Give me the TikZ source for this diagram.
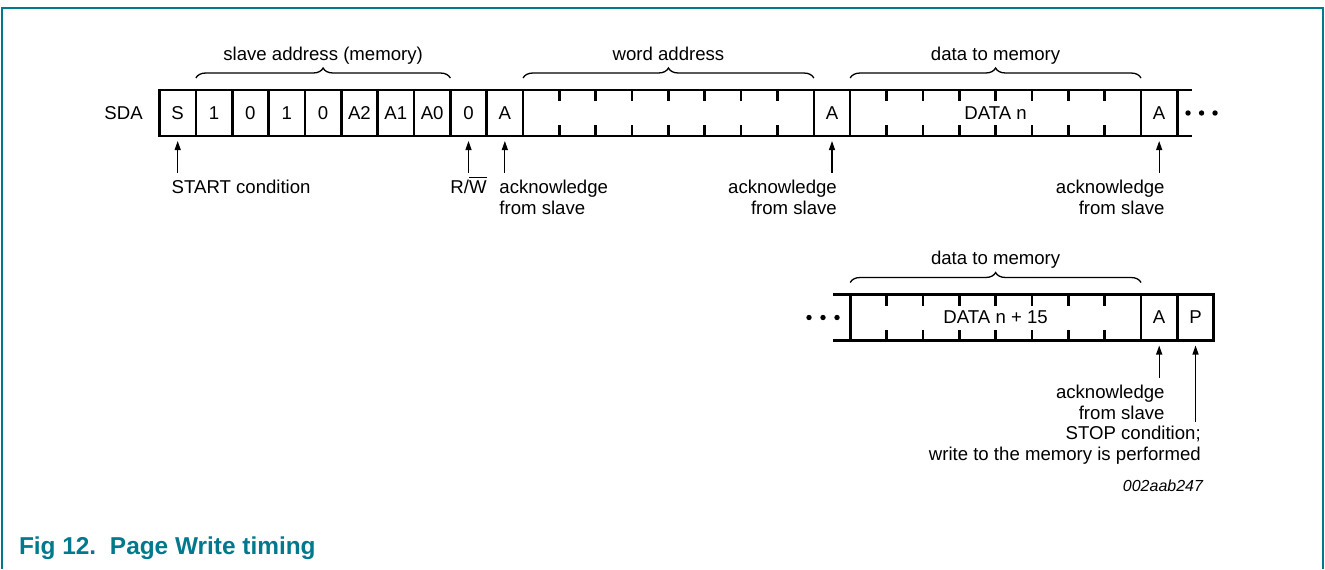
\documentclass[tikz,border=0pt]{standalone}
\usepackage{fontspec}
\setmainfont{Liberation Sans}
\usetikzlibrary{positioning, arrows.meta, decorations.pathreplacing, calc}
\definecolor{figteal}{RGB}{0,121,140}
\tikzset{
    x=0.5pt, y=-0.5pt, % one unit is one pixel of the drawing, y runs downwards
    >={Triangle[length=4.5pt, width=3pt]}, % small solid arrow heads
    every node/.style={font=\fontsize{9.3}{10.3}\selectfont, inner sep=0pt, outer sep=0pt},
    sigcell/.style={draw, line width=1.3pt, minimum width=18.175pt, minimum height=23pt}, % one bit
    sigbyte/.style={sigcell, minimum width=145.4pt}, % eight bits
    ackarrow/.style={->, line width=0.6pt, shorten >=2.5pt},
    curly/.style={decorate, decoration={brace, amplitude=5pt}, line width=0.65pt},
    note/.style={align=left},
    rnote/.style={align=right},
}

\begin{document}
\begin{tikzpicture}
    \useasboundingbox (0,0) rectangle (1325,569);
    \draw[figteal, line width=1pt] (2,569) -- (2,8) -- (1323,8) -- (1323,569);

    % first frame
    \node[sigcell] (s) at (177.7,113) {S};
    \node[sigcell, right=0pt of s] (b1) {1};
    \node[sigcell, right=0pt of b1] (b2) {0};
    \node[sigcell, right=0pt of b2] (b3) {1};
    \node[sigcell, right=0pt of b3] (b4) {0};
    \node[sigcell, right=0pt of b4] (a2) {A2};
    \node[sigcell, right=0pt of a2] (a1) {A1};
    \node[sigcell, right=0pt of a1] (a0) {A0};
    \node[sigcell, right=0pt of a0] (rw) {0};
    \node[sigcell, right=0pt of rw] (ack1) {A};
    \node[sigbyte, right=0pt of ack1] (word) {};
    \node[sigcell, right=0pt of word] (ack2) {A};
    \node[sigbyte, right=0pt of ack2] (data1) {DATA n};
    \node[sigcell, right=0pt of data1] (ack3) {A};
    \node[left=8.4pt of s] (sda) {SDA};

    \draw[line width=1.3pt] (ack3.north east) -- ++(14.4,0) (ack3.south east) -- ++(14.4,0);
    \fill ([xshift=5.35pt]ack3.east) circle (1.35pt) ++(13.5,0) circle (1.35pt) ++(13.5,0) circle (1.35pt);

    % second frame
    \node[sigbyte] (data2) at (995.6,317.5) {DATA n + 15};
    \node[sigcell, right=0pt of data2] (ack4) {A};
    \node[sigcell, right=0pt of ack4] (stop) {P};

    \draw[line width=1.3pt] (data2.north west) -- ++(-17,0) (data2.south west) -- ++(-17,0);
    \fill ([xshift=-6.6pt]data2.west) circle (1.35pt) ++(-14,0) circle (1.35pt) ++(-14,0) circle (1.35pt);

    % bit ticks inside the bytes
    \foreach \n in {word, data1, data2}
        \foreach \i in {1,...,7} {
            \draw[line width=1.3pt] ($(\n.north west)!\i/8!(\n.north east)$) -- ++(0,11);
            \draw[line width=1.3pt] ($(\n.south west)!\i/8!(\n.south east)$) -- ++(0,-11);
        }

    % braces
    \draw[curly] ([yshift=6pt]b1.north west) -- ([yshift=6pt]a0.north east)
        node[midway, yshift=9pt, anchor=base] (slavelbl) {slave address (memory)};
    \draw[curly] ([yshift=6pt]word.north west) -- ([yshift=6pt]word.north east)
        node[midway, yshift=9pt, anchor=base] (wordlbl) {word address};
    \draw[curly] ([yshift=6pt]data1.north west) -- ([yshift=6pt]data1.north east)
        node[midway, yshift=9pt, anchor=base] (data1lbl) {data to memory};
    \draw[curly] ([yshift=6pt]data2.north west) -- ([yshift=6pt]data2.north east)
        node[midway, yshift=9pt, anchor=base] (data2lbl) {data to memory};

    % labels under the first frame
    \node[note, anchor=north west] (startlbl) at (171.7,180) {START condition};
    \node[anchor=north] (rwlbl) at ([yshift=1.7pt]rw.south |- startlbl.north) {R/$\overline{\mbox{W}}$};
    \node[note, anchor=north west] (ack1lbl) at ([xshift=-2.7pt]ack1.south |- startlbl.north) {acknowledge\\from slave};
    \node[rnote, anchor=north east] (ack2lbl) at ([xshift=2.4pt]ack2.south |- startlbl.north) {acknowledge\\from slave};
    \node[rnote, anchor=north east] (ack3lbl) at ([xshift=2.7pt]ack3.south |- startlbl.north) {acknowledge\\from slave};

    \draw[ackarrow] ([yshift=3.5pt]s.south |- startlbl.north) -- (s.south);
    \draw[ackarrow] ([yshift=3.5pt]rw.south |- startlbl.north) -- (rw.south);
    \draw[ackarrow] ([yshift=3.5pt]ack1.south |- startlbl.north) -- (ack1.south);
    \draw[ackarrow] ([yshift=3.5pt]ack2.south |- startlbl.north) -- (ack2.south);
    \draw[ackarrow] ([yshift=3.5pt]ack3.south |- startlbl.north) -- (ack3.south);

    % labels under the second frame
    \node[rnote, anchor=north east] (ack4lbl) at ([xshift=2.7pt]ack4.south |- 0,385) {acknowledge\\from slave};
    \node[rnote, anchor=north east] (stoplbl) at ([xshift=2.6pt]stop.south |- 0,426) {STOP condition;\\write to the memory is performed};
    \draw[ackarrow] ([yshift=3.5pt]ack4.south |- ack4lbl.north) -- (ack4.south);
    \draw[ackarrow] ([yshift=2pt]stop.south |- stoplbl.north) -- (stop.south);

    \node[anchor=base east, font=\fontsize{8}{9}\selectfont\itshape] (figcode) at (1203,491) {002aab247};

    % caption
    \node[anchor=base west, text=figteal, font=\fontsize{12.2}{13}\selectfont\bfseries] (caption) at (19,554)
        {\makebox[45.5pt][l]{Fig 12.}Page Write timing};
\end{tikzpicture}
\end{document}
